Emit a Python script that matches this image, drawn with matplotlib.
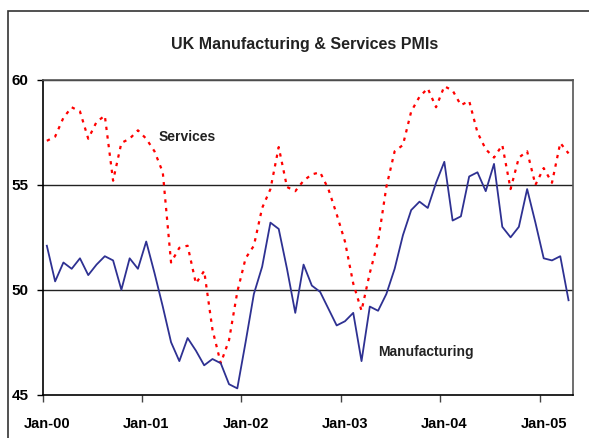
import numpy as np
import matplotlib
matplotlib.use("Agg")
import matplotlib.pyplot as plt
from matplotlib.patches import Rectangle

plt.rcParams['font.family'] = ['Liberation Sans', 'DejaVu Sans']
plt.rcParams['font.weight'] = 'bold'

# monthly PMI readings, Jan-00 .. Apr-05
manufacturing = [
    52.1, 50.4, 51.3, 51.0, 51.5, 50.7, 51.2, 51.6, 51.4, 50.0, 51.5, 51.0,
    52.3, 50.8, 49.2, 47.5, 46.6, 47.7, 47.1, 46.4, 46.7, 46.5, 45.5, 45.3,
    47.5, 49.8, 51.1, 53.2, 52.9, 51.0, 48.9, 51.2, 50.2, 49.9, 49.1, 48.3,
    48.5, 48.9, 46.6, 49.2, 49.0, 49.8, 51.0, 52.6, 53.8, 54.2, 53.9, 55.1,
    56.1, 53.3, 53.5, 55.4, 55.6, 54.7, 56.0, 53.0, 52.5, 53.0, 54.8, 53.2,
    51.5, 51.4, 51.6, 49.5,
]
services = [
    57.1, 57.3, 58.2, 58.7, 58.5, 57.2, 58.0, 58.3, 55.2, 57.0, 57.2, 57.6,
    57.2, 56.6, 55.6, 51.3, 52.0, 52.1, 50.3, 50.9, 48.1, 46.5, 47.6, 49.9,
    51.5, 52.1, 53.9, 54.8, 56.8, 54.9, 54.7, 55.2, 55.5, 55.6, 54.8, 53.6,
    52.3, 50.3, 49.0, 50.8, 52.3, 54.9, 56.6, 56.9, 58.5, 59.2, 59.6, 58.7,
    59.7, 59.5, 58.8, 59.0, 57.5, 56.7, 56.3, 56.9, 54.8, 56.3, 56.6, 55.0,
    55.8, 55.1, 57.0, 56.5,
]
year_labels = ['Jan-00', 'Jan-01', 'Jan-02', 'Jan-03', 'Jan-04', 'Jan-05']
y_ticks = [45, 50, 55, 60]

n = len(manufacturing)
x = np.arange(n)

fig = plt.figure(figsize=(5.89, 4.38), dpi=100)
ax = fig.add_axes([0.0725, 0.0989, 0.8998, 0.7185])

# outer chart frame (right and bottom edges fall outside the image)
fig.patches.append(Rectangle((8 / 589, -0.1), 1.2, 1 - 11 / 438 + 0.1,
                             transform=fig.transFigure, fill=False,
                             edgecolor='#333333', linewidth=1.2))

ax.plot(x, services, color='#FF0000', linewidth=1.6, linestyle=(0, (1.5, 2.4)))
ax.plot(x, manufacturing, color='#2E3192', linewidth=1.3)

ax.set_xlim(-0.5, n - 0.5)
ax.set_ylim(45, 60)

# gridlines
for v in [50, 55, 60]:
    ax.axhline(v, color='#222222', linewidth=1.0, zorder=0)

ax.set_yticks(y_ticks)
ax.set_yticklabels([str(v) for v in y_ticks], fontsize=11, fontweight='bold')
ax.tick_params(axis='y', length=4, width=1, pad=6, direction='out')

# tick marks between categories, labels on the January points
ax.set_xticks(np.arange(-0.5, n, 12))
ax.set_xticklabels([''] * len(np.arange(-0.5, n, 12)))
ax.set_xticks(np.arange(0, n, 12), minor=True)
ax.set_xticklabels(year_labels, minor=True, fontsize=10.5, fontweight='bold')
ax.tick_params(axis='x', which='major', length=5, width=1, direction='out', color='#444444')
ax.tick_params(axis='x', which='minor', length=0, pad=16)

for side in ['left', 'bottom']:
    ax.spines[side].set_color('black')
    ax.spines[side].set_linewidth(1.2)
for side in ['top', 'right']:
    ax.spines[side].set_color('#555555')
    ax.spines[side].set_linewidth(1.2)

ax.text(17.0, 57.3, 'Services', fontsize=10, fontweight='bold', color='#222222',
        ha='center', va='center')
ax.text(45.8, 47.05, 'Manufacturing', fontsize=10, fontweight='bold', color='#222222',
        ha='center', va='center')

fig.text(0.517, 1 - 45 / 438, 'UK Manufacturing & Services PMIs', fontsize=11.5,
         fontweight='bold', ha='center', va='center', color='#222222')

fig.savefig('out.png', dpi=100)
